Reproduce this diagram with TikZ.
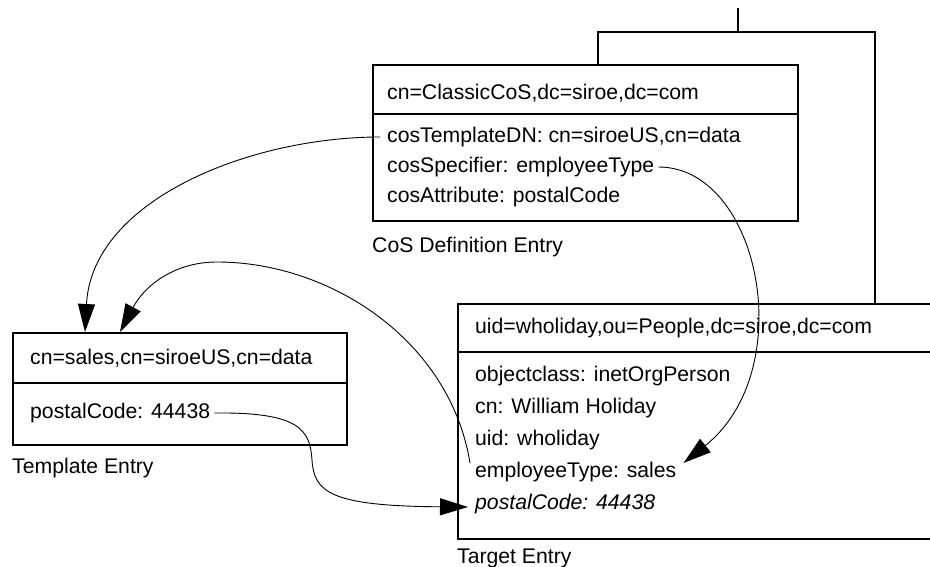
\documentclass[tikz,border=0pt]{standalone}
\usepackage{fontspec}
\setmainfont{Liberation Sans}
\usetikzlibrary{arrows.meta,positioning,calc}

\begin{document}
\begin{tikzpicture}
[x=1pt,y=-1pt,
font=\fontsize{21.2}{25}\selectfont,
entry/.style={draw=black,line width=2pt,rectangle,anchor=north west,inner sep=0pt},
attr/.style={anchor=west,inner sep=0pt,text height=15pt,text depth=4pt},
link/.style={line width=0.9pt,-{Triangle[length=28pt,width=17pt]}},
tree/.style={line width=2pt}]
\clip (0,0) rectangle (930,567);
% the three entries
\node[entry,minimum width=425pt,minimum height=156pt] (cosdef) at (372,64) {};
\node[entry,minimum width=334pt,minimum height=112pt] (tmpl) at (12,332) {};
\node[entry,minimum width=520pt,minimum height=235pt] (target) at (457,303) {};
\draw[tree] ([yshift=-50pt]cosdef.north west) -- ([yshift=-50pt]cosdef.north east);
\draw[tree] ([yshift=-51pt]tmpl.north west) -- ([yshift=-51pt]tmpl.north east);
\draw[tree] ([yshift=-49pt]target.north west) -- ([yshift=-49pt]target.north east);

\node[attr] (cosdn) at (387,94) {cn=ClassicCoS,dc=siroe,dc=com};
\node[attr] (tdn) at (387,137) {cosTemplateDN: cn=siroeUS,cn=data};
\node[attr] (spec) at (387,167) {cosSpecifier: employeeType};
\node[attr] (cattr) at (387,197) {cosAttribute: postalCode};
\node[attr] (coslbl) at (372,247) {CoS Definition Entry};

\node[attr] (tmpldn) at (30,359) {cn=sales,cn=siroeUS,cn=data};
\node[attr] (tpc) at (30,413) {postalCode: 44438};
\node[attr] (tmpllbl) at (12,468) {Template Entry};

\node[attr] (targetdn) at (475,328) {uid=wholiday,ou=People,dc=siroe,dc=com};
\node[attr] (ocls) at (475,376) {objectclass: inetOrgPerson};
\node[attr] (cn) at (475,408) {cn: William Holiday};
\node[attr] (uid) at (475,440) {uid: wholiday};
\node[attr] (etype) at (475,472) {employeeType: sales};
\node[attr] (tpc2) at (475,504) {\itshape postalCode: 44438};
\node[attr] (targetlbl) at (457,558) {Target Entry};

% tree above
\coordinate (root) at (738,8);
\coordinate (fork) at (738,32);
\draw[tree] (root) -- (fork);
\draw[tree] ([xshift=226pt]cosdef.north west) |- (fork) -| ([xshift=418pt]target.north west);

% links
\coordinate (tin1) at ([xshift=73pt]tmpl.north west);
\coordinate (tin2) at ([xshift=108pt]tmpl.north west);
\draw[link] ([xshift=-7pt]tdn.west) .. controls (250,137) and (92,200) .. (tin1);
\draw[link] ([xshift=-5pt,yshift=9pt]etype.west) .. controls (450,340) and (330,262) .. (217,262)
  .. controls (175,262) and (145,285) .. (tin2);
\draw[link] ([xshift=4pt]spec.east) .. controls (760,167) and (800,370) .. ([xshift=7pt,yshift=9pt]etype.east);
\draw[link] ([xshift=4pt]tpc.east) .. controls (300,412) and (310,430) .. (312,460)
  .. controls (314,492) and (330,506) .. ([xshift=-7pt,yshift=-3pt]tpc2.west);
\end{tikzpicture}
\end{document}
